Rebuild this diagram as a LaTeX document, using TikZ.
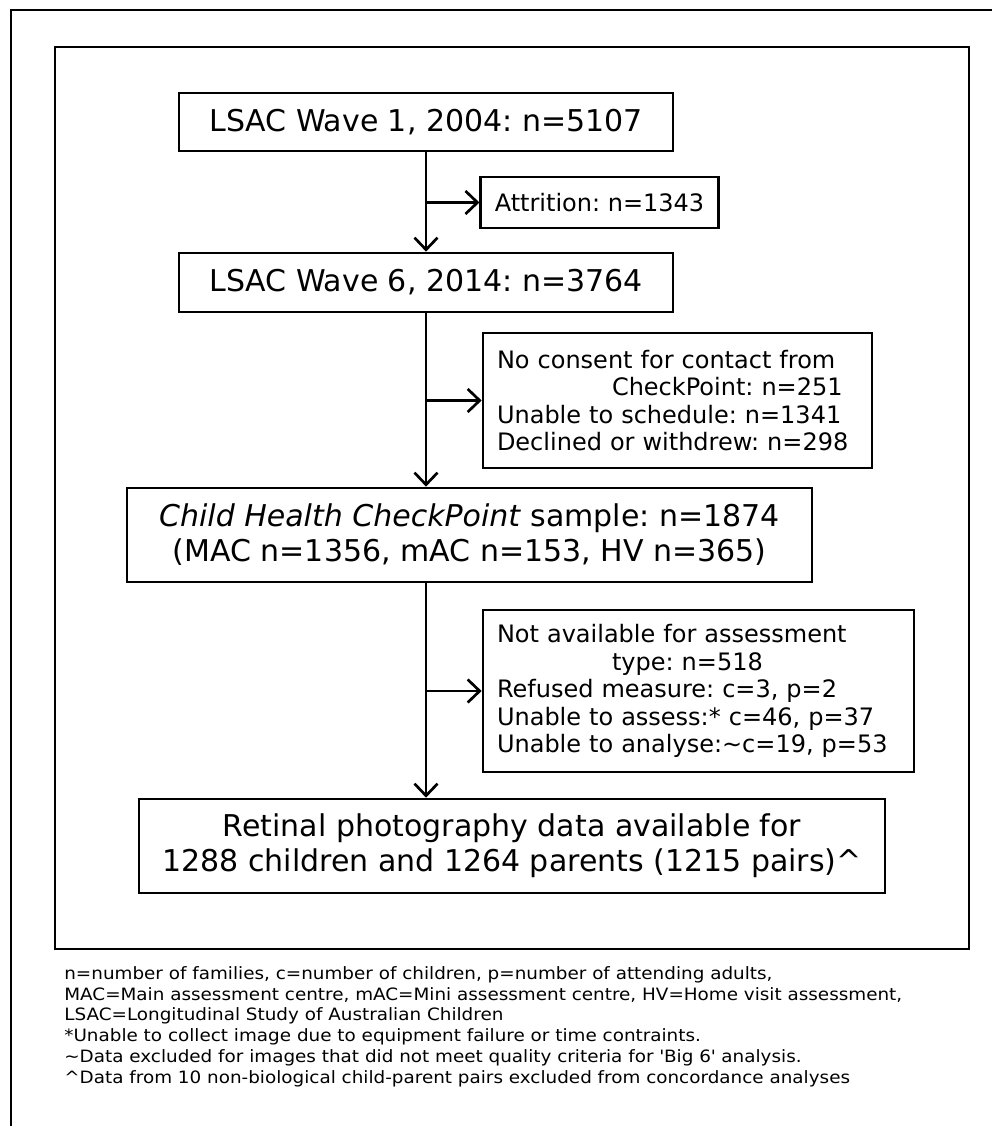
\documentclass[tikz,border=0pt]{standalone}
\usepackage{fontspec}
\setmainfont{DejaVu Sans}
\newfontfamily\notefont[FakeStretch=1.08]{DejaVu Sans}
\usetikzlibrary{arrows.meta, positioning, calc}
\frenchspacing

\tikzset{
  bigbox/.style={draw, line width=2.7pt, font=\fontsize{30}{35}\selectfont, align=center, inner sep=0pt},
  smallbox/.style={draw, line width=2.7pt, font=\fontsize{24}{27.5}\selectfont, align=left, inner xsep=14pt, inner ysep=0pt},
}

\begin{document}
\begin{tikzpicture}[x=1pt,y=-1pt,>={Straight Barb[length=12pt,width=23pt]},line width=2.7pt]
\useasboundingbox (0,0) rectangle (992,1126);
% frames
\draw[line width=2.8pt] (992,10) -- (11,10) -- (11,1126);
\draw[line width=2.8pt] (55,47) rectangle (969,949);

\node[bigbox,minimum width=494pt,minimum height=58pt] (wave1) at (426,122) {LSAC Wave 1, 2004: n=5107};
\node[smallbox,minimum width=233pt,minimum height=51pt] (attr) at (599.5,202.5) {Attrition: n=1343};
\node[bigbox,minimum width=494pt,minimum height=59pt] (wave2) at (426,282.5) {LSAC Wave 6, 2014: n=3764};
\node[smallbox,text width=361pt,minimum height=135pt] (nocons) at (677.5,400.5) {No consent for contact from\\
  \hspace*{115pt}CheckPoint: n=251\\
  Unable to schedule: n=1341\\
  Declined or withdrew: n=298};
\node[bigbox,minimum width=685pt,minimum height=94pt] (chc) at (469.5,535) {\textit{Child Health CheckPoint} sample: n=1874\\
  (MAC n=1356, mAC n=153, HV n=365)};
\node[smallbox,text width=403pt,minimum height=162pt] (notavail) at (698.5,691) {Not available for assessment\\
  \hspace*{115pt}type: n=518\\
  Refused measure: c=3, p=2\\
  Unable to assess:* c=46, p=37\\
  Unable to analyse:\textasciitilde c=19, p=53};
\node[bigbox,minimum width=746pt,minimum height=94pt] (retinal) at (512,846) {Retinal photography data available for\\
  1288 children and 1264 parents (1215 pairs)\textasciicircum};

% main flow
\draw[->] (wave1.south) -- (wave2.north);
\draw[->] (wave1.south |- attr.west) -- (attr.west);
\draw[->] (wave2.south) -- (wave2.south |- chc.north);
\draw[->] (wave2.south |- nocons.west) -- (nocons.west);
\draw[->] (wave2.south |- chc.south) -- (wave2.south |- retinal.north);
\draw[->] (wave2.south |- notavail.west) -- (notavail.west);

\node[anchor=north west,font=\notefont\fontsize{17}{20.8}\selectfont,align=left,inner sep=0pt] (notes) at (63,965) {n=number of families, c=number of children, p=number of attending adults,\\
  MAC=Main assessment centre, mAC=Mini assessment centre, HV=Home visit assessment,\\
  LSAC=Longitudinal Study of Australian Children\\
  *Unable to collect image due to equipment failure or time contraints.\\
  \textasciitilde Data excluded for images that did not meet quality criteria for \textquotesingle Big 6\textquotesingle\ analysis.\\
  \textasciicircum Data from 10 non-biological child-parent pairs excluded from concordance analyses};
\end{tikzpicture}
\end{document}
